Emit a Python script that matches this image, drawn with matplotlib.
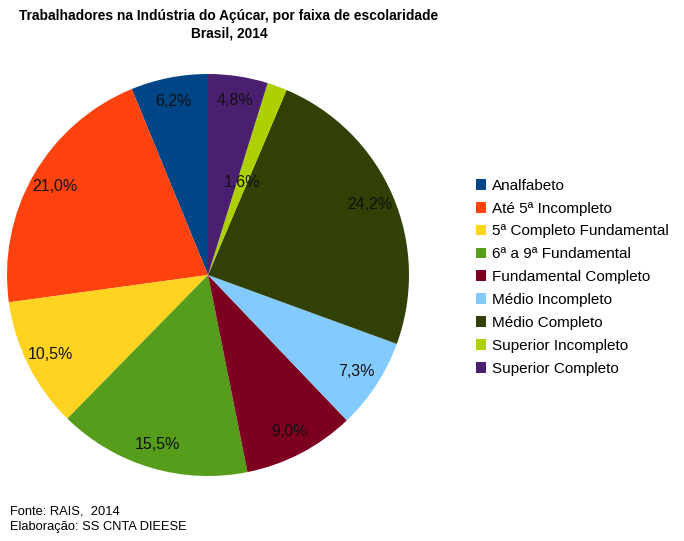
import matplotlib
matplotlib.use("Agg")
import matplotlib.pyplot as plt
import numpy as np
from matplotlib import font_manager

categories = ["Analfabeto", "Até 5ª Incompleto", "5ª Completo Fundamental",
              "6ª a 9ª Fundamental", "Fundamental Completo", "Médio Incompleto",
              "Médio Completo", "Superior Incompleto", "Superior Completo"]
values = [6.2, 21.0, 10.5, 15.5, 9.0, 7.3, 24.2, 1.6, 4.8]
colors = ["#004586", "#ff420e", "#ffd320", "#579d1c", "#7e0021",
          "#83caff", "#314004", "#aecf00", "#4b1f6f"]

plt.rcParams['font.family'] = ['Liberation Sans', 'DejaVu Sans']

names = {f.name for f in font_manager.fontManager.ttflist}
narrow = 'Liberation Sans Narrow' in names

W, H = 684, 541
fig = plt.figure(figsize=(W/100, H/100), dpi=100)
cx, cy, r = 208, 275, 201
ax = fig.add_axes([(cx - r)/W, (H - cy - r)/H, 2*r/W, 2*r/H])
wedges, _ = ax.pie(values, colors=colors, startangle=90, counterclock=True,
                   radius=1, wedgeprops=dict(linewidth=0))
ax.set_xlim(-1, 1)
ax.set_ylim(-1, 1)
ax.set_aspect('equal')
ax.axis('off')

for w, v in zip(wedges, values):
    ang = np.deg2rad((w.theta1 + w.theta2) / 2)
    d = 0.49 if v < 3 else 0.88
    ax.text(d*np.cos(ang), d*np.sin(ang), f"{v:.1f}%".replace('.', ','),
            ha='center', va='center', fontsize=11.5, color='#111111')

if narrow:
    tfam, tsize = ['Liberation Sans Narrow', 'DejaVu Sans'], 13
else:
    tfam, tsize = ['Liberation Sans', 'DejaVu Sans'], 9.9
fig.text(229/W, 1 - 16/H, "Trabalhadores na Indústria do Açúcar, por faixa de escolaridade",
         ha='center', va='center', fontsize=tsize, fontweight='bold', family=tfam)
fig.text(229/W, 1 - 33/H, "Brasil, 2014", ha='center', va='center',
         fontsize=tsize, fontweight='bold', family=tfam)

leg = fig.legend(wedges, categories, loc='upper left',
                 bbox_to_anchor=(468/W, 1 - 171/H), frameon=False,
                 fontsize=11, handlelength=0.7, handleheight=0.7,
                 handletextpad=0.4, labelspacing=0.58, borderpad=0)

fig.text(10/W, 1 - 512/H, "Fonte: RAIS,  2014", ha='left', va='center', fontsize=9.3)
fig.text(10/W, 1 - 527/H, "Elaboração: SS CNTA DIEESE", ha='left', va='center', fontsize=9.3)

fig.savefig("out.png", dpi=100)
